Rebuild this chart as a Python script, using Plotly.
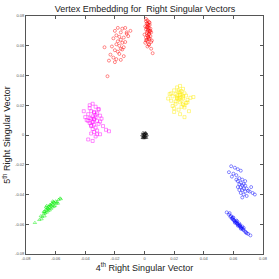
import plotly.graph_objects as go

# ---- data ----
red_dense_x = [0.001,0.002,0.003,0.0015,0.0025,0.0035,0.0005,0.002,0.003,0.004,0.001,0.0025,0.0035,0.002,0.0045,0.0015,0.003,0.0,0.002,0.004,0.0025,0.001,0.0035,0.003,0.0015,0.002,0.0045,0.0005,0.003,0.0025,0.0035,0.001,0.002,0.004,0.0015,0.003,0.0025,0.002,0.0055,0.0045,0.003,0.001,0.0035,0.002,0.005]
red_dense_y = [0.078,0.077,0.076,0.075,0.0745,0.074,0.073,0.0725,0.072,0.0715,0.071,0.0705,0.070,0.0695,0.069,0.0685,0.068,0.0675,0.067,0.0665,0.066,0.0655,0.065,0.0645,0.064,0.063,0.0625,0.062,0.061,0.0735,0.0755,0.0765,0.0715,0.07,0.0725,0.0675,0.0655,0.0595,0.055,0.058,0.0605,0.0635,0.0695,0.0745,0.0635]

red_sparse_x = [-0.018,-0.015,-0.013,-0.020,-0.016,-0.012,-0.019,-0.017,-0.014,-0.021,-0.016,-0.018,-0.013,-0.015,-0.019,-0.017,-0.022,-0.014,-0.016,-0.020,-0.018,-0.011,-0.015,-0.023,-0.017,-0.021,-0.019,-0.014,-0.0095,-0.027,-0.024,-0.020,-0.025,-0.016,-0.012]
red_sparse_y = [0.072,0.0715,0.072,0.070,0.069,0.068,0.067,0.066,0.0655,0.065,0.064,0.063,0.0625,0.062,0.061,0.060,0.0595,0.059,0.058,0.057,0.056,0.0665,0.0575,0.054,0.0545,0.052,0.051,0.053,0.070,0.059,0.050,0.049,0.0395,0.0505,0.069]

magenta_x = [-0.035,-0.033,-0.037,-0.031,-0.036,-0.034,-0.032,-0.038,-0.030,-0.035,-0.033,-0.036,-0.034,-0.039,-0.032,-0.035,-0.037,-0.031,-0.034,-0.036,-0.033,-0.029,-0.038,-0.035,-0.032,-0.034,-0.036,-0.030,-0.040,-0.033,-0.037,-0.035,-0.028,-0.034,-0.031,-0.036,-0.033,-0.041,-0.026,-0.024,-0.038,-0.035,-0.032,-0.030,-0.034,-0.037]
magenta_y = [0.021,0.019,0.018,0.017,0.016,0.015,0.0145,0.014,0.013,0.0125,0.012,0.011,0.0105,0.010,0.0095,0.009,0.008,0.0075,0.007,0.006,0.005,0.011,0.0095,0.004,0.003,0.002,0.001,0.0005,0.012,0.0135,0.0115,0.0085,0.006,0.0155,0.0175,0.0065,-0.001,0.016,0.0035,0.0025,-0.003,-0.004,0.0005,0.009,0.011,0.020]

yellow_x = [0.024,0.022,0.026,0.020,0.025,0.023,0.027,0.021,0.024,0.028,0.019,0.025,0.022,0.026,0.023,0.029,0.018,0.024,0.021,0.027,0.025,0.020,0.023,0.030,0.017,0.026,0.022,0.024,0.028,0.019,0.025,0.031,0.016,0.023,0.027,0.021,0.033,0.024,0.020,0.026,0.022,0.025,0.018,0.029,0.023,0.027]
yellow_y = [0.033,0.032,0.031,0.030,0.0295,0.029,0.028,0.0275,0.027,0.0265,0.026,0.0255,0.025,0.0245,0.024,0.0235,0.023,0.022,0.021,0.020,0.019,0.018,0.017,0.016,0.0275,0.026,0.0245,0.0285,0.0215,0.0195,0.023,0.025,0.0245,0.030,0.0185,0.0225,0.0255,0.014,0.0155,0.0205,0.0265,0.027,0.028,0.022,0.025,0.012]

black_x = [-0.001,0.0,0.001,-0.0005,0.0005,-0.0015,0.0015,0.0,-0.001,0.001,0.0,-0.0005,0.0005,0.0012,-0.0012,0.0,0.0008,-0.0008]
black_y = [0.0015,0.0012,0.001,0.0005,0.0008,0.0,0.0,0.0002,-0.0005,-0.0005,-0.001,-0.0012,-0.0015,-0.0018,-0.0018,-0.002,0.0015,-0.002]

green_x = [-0.074,-0.071,-0.070,-0.069,-0.068,-0.0675,-0.067,-0.0665,-0.066,-0.0655,-0.065,-0.0645,-0.064,-0.0635,-0.063,-0.0625,-0.062,-0.0615,-0.061,-0.060,-0.059,-0.058,-0.057,-0.0565,-0.068,-0.066,-0.064,-0.062,-0.0665,-0.063,-0.0605,-0.0675,-0.065,-0.061,-0.0595,-0.0585,-0.0695,-0.064,-0.062,-0.066]
green_y = [-0.059,-0.057,-0.0545,-0.055,-0.053,-0.0515,-0.0525,-0.050,-0.0505,-0.049,-0.0495,-0.048,-0.049,-0.047,-0.0475,-0.046,-0.0465,-0.045,-0.0455,-0.0445,-0.045,-0.0435,-0.0425,-0.043,-0.0515,-0.052,-0.0505,-0.0485,-0.0485,-0.0495,-0.0475,-0.0545,-0.051,-0.048,-0.046,-0.046,-0.0565,-0.047,-0.0445,-0.0475]

blue_sparse_x = [0.0585,0.061,0.063,0.057,0.060,0.065,0.062,0.059,0.064,0.066,0.063,0.065,0.067,0.064,0.066,0.068,0.063,0.065,0.067,0.069,0.064,0.066,0.070,0.068,0.071,0.073,0.065,0.067,0.069,0.072,0.066,0.0745,0.062,0.068]
blue_sparse_y = [-0.021,-0.022,-0.023,-0.025,-0.026,-0.024,-0.027,-0.028,-0.029,-0.030,-0.031,-0.032,-0.033,-0.033,-0.034,-0.034,-0.035,-0.035,-0.036,-0.036,-0.037,-0.037,-0.0375,-0.038,-0.038,-0.039,-0.039,-0.040,-0.041,-0.035,-0.042,-0.040,-0.030,-0.031]

blue_dense_x = [0.0555,0.057,0.058,0.0585,0.059,0.0595,0.060,0.0605,0.061,0.0615,0.062,0.0625,0.063,0.0635,0.064,0.0645,0.065,0.0655,0.066,0.0665,0.067,0.068,0.069,0.070,0.0715,0.060,0.062,0.064,0.066,0.061,0.063,0.065,0.0575,0.0595,0.0625,0.0645,0.067,0.0685]
blue_dense_y = [-0.052,-0.0535,-0.055,-0.0545,-0.056,-0.0565,-0.057,-0.0575,-0.058,-0.0585,-0.059,-0.0595,-0.060,-0.0605,-0.061,-0.0615,-0.062,-0.0625,-0.063,-0.0635,-0.064,-0.065,-0.066,-0.0665,-0.0675,-0.0555,-0.0575,-0.0595,-0.0615,-0.059,-0.061,-0.063,-0.0525,-0.0555,-0.058,-0.0605,-0.0625,-0.0655]

tick_vals = [-0.08, -0.06, -0.04, -0.02, 0, 0.02, 0.04, 0.06, 0.08]
tick_text = ["-0.08", "-0.06", "-0.04", "-0.02", "0", "0.02", "0.04", "0.06", "0.08"]

groups = [
    (red_dense_x, red_dense_y, "#ff0000", "circle-open"),
    (red_sparse_x, red_sparse_y, "#ff0000", "circle-open"),
    (magenta_x, magenta_y, "#ff00ff", "square-open"),
    (yellow_x, yellow_y, "#ffee00", "square-open"),
    (black_x, black_y, "#000000", "triangle-up-open"),
    (green_x, green_y, "#00ee00", "triangle-up-open"),
    (blue_sparse_x, blue_sparse_y, "#0000ff", "circle-open"),
    (blue_dense_x, blue_dense_y, "#0000ff", "circle-open"),
]

fig = go.Figure()
for gx, gy, col, sym in groups:
    fig.add_trace(go.Scatter(
        x=gx, y=gy, mode="markers",
        marker=dict(symbol=sym, size=3, color=col, opacity=0.75,
                    line=dict(width=0.6, color=col)),
        showlegend=False, hoverinfo="skip"))

axis_common = dict(
    range=[-0.08, 0.08], tickvals=tick_vals, ticktext=tick_text,
    showgrid=False, zeroline=False, showline=True, linecolor="#555555", linewidth=1,
    mirror="ticks", ticks="inside", ticklen=3, tickcolor="#555555",
    tickfont=dict(size=4, color="#555555", family="Liberation Sans"),
    automargin=False,
)

fig.update_layout(
    width=279, height=279,
    margin=dict(l=26, r=16, t=16, b=25),
    paper_bgcolor="white", plot_bgcolor="white",
    font=dict(family="Liberation Sans", color="#222222"),
    title=dict(text="Vertex Embedding for  Right Singular Vectors",
               x=0.52, xanchor="center", y=0.967, yanchor="middle",
               font=dict(size=9, color="#222222")),
    xaxis=dict(**axis_common,
               title=dict(text="4<sup>th</sup> Right Singular Vector",
                          font=dict(size=9, color="#222222"), standoff=2)),
    yaxis=dict(**axis_common,
               title=dict(text="5<sup>th</sup> Right Singular Vector",
                          font=dict(size=9, color="#222222"), standoff=2)),
)

fig.write_html("out.html", config={"displayModeBar": False},
               post_script="document.body.style.margin='0';")
